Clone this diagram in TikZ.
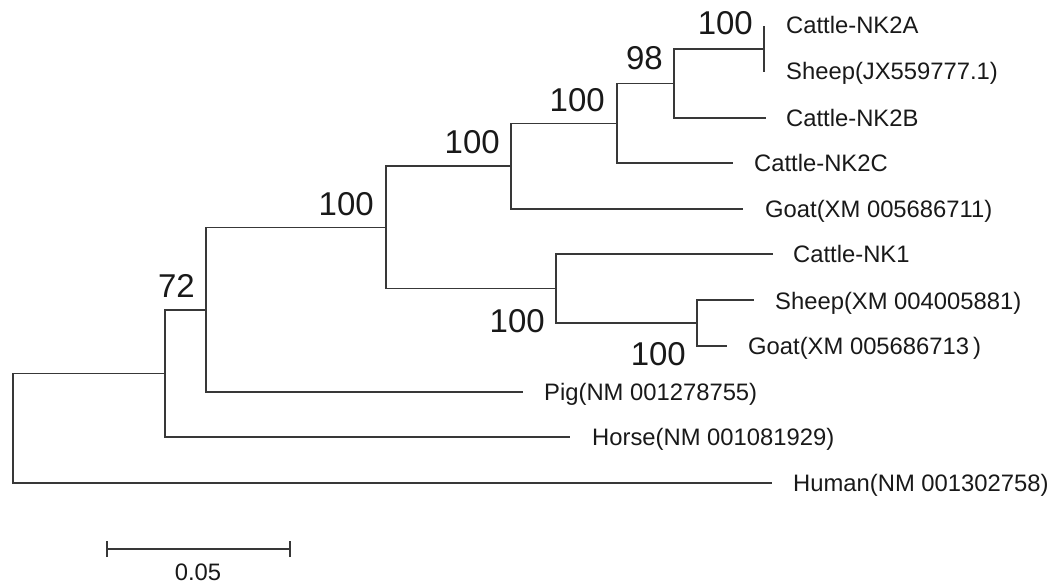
\documentclass[tikz,border=0pt]{standalone}
\usepackage{fontspec}
\setmainfont{Liberation Sans}
\begin{document}
\begin{tikzpicture}[x=1pt,y=-1pt,
  branch/.style={draw=black!78,line width=1.8pt},
  taxon/.style={anchor=base west,inner sep=0pt,text=black!90,font=\fontsize{23.8}{28}\selectfont},
  boot/.style={anchor=base east,inner sep=0pt,text=black!90,font=\fontsize{33}{38}\selectfont},
  scalelbl/.style={anchor=base,inner sep=0pt,text=black!90,font=\fontsize{23.8}{28}\selectfont}]
\useasboundingbox (0,0) rectangle (1057,586);

% internal nodes (x = depth, y = midpoint of children)
\coordinate (root) at (13,428);
\coordinate (n72)  at (165,373.5);
\coordinate (nin)  at (206,310);
\coordinate (n1)   at (386,227.5);
\coordinate (n2)   at (511,166);
\coordinate (n3)   at (617,123.5);
\coordinate (n98)  at (674,83.5);
\coordinate (na)   at (764,49);
\coordinate (n5)   at (556,288.5);
\coordinate (n6)   at (697,323);

% branch tips
\coordinate (tnk2a)  at (764,26);
\coordinate (tshjx)  at (764,72);
\coordinate (tnk2b)  at (766,118);
\coordinate (tnk2c)  at (733,163);
\coordinate (tgo711) at (743,209);
\coordinate (tnk1)   at (773,254);
\coordinate (tshxm)  at (754,300);
\coordinate (tgo713) at (727,346);
\coordinate (tpig)   at (523,392);
\coordinate (thorse) at (570,437);
\coordinate (thuman) at (772,483);

% branches
\draw[branch] (root) |- (n72);
\draw[branch] (root) |- (thuman);
\draw[branch] (n72) |- (nin);
\draw[branch] (n72) |- (thorse);
\draw[branch] (nin) |- (n1);
\draw[branch] (nin) |- (tpig);
\draw[branch] (n1) |- (n2);
\draw[branch] (n1) |- (n5);
\draw[branch] (n2) |- (n3);
\draw[branch] (n2) |- (tgo711);
\draw[branch] (n3) |- (n98);
\draw[branch] (n3) |- (tnk2c);
\draw[branch] (n98) |- (na);
\draw[branch] (n98) |- (tnk2b);
\draw[branch] (na) -- (tnk2a);
\draw[branch] (na) -- (tshjx);
\draw[branch] (n5) |- (tnk1);
\draw[branch] (n5) |- (n6);
\draw[branch] (n6) |- (tshxm);
\draw[branch] (n6) |- (tgo713);

% taxon labels
\node[taxon] (lnk2a)  at (786,34)  {Cattle-NK2A};
\node[taxon] (lshjx)  at (786,80)  {Sheep(JX559777.1)};
\node[taxon] (lnk2b)  at (786,126) {Cattle-NK2B};
\node[taxon] (lnk2c)  at (754,171) {Cattle-NK2C};
\node[taxon] (lgo711) at (765,217) {Goat(XM 005686711)};
\node[taxon] (lnk1)   at (793,262) {Cattle-NK1};
\node[taxon] (lshxm)  at (775,309) {Sheep(XM 004005881)};
\node[taxon] (lgo713) at (748,354) {Goat(XM 005686713\,)};
\node[taxon] (lpig)   at (544,400) {Pig(NM 001278755)};
\node[taxon] (lhorse) at (592,445) {Horse(NM 001081929)};
\node[taxon] (lhuman) at (793,491) {Human(NM 001302758)};

% bootstrap values
\node[boot] (bna)  at (753,35)  {100};
\node[boot] (b98)  at (663,70)  {98};
\node[boot] (bn3)  at (605,111) {100};
\node[boot] (bn2)  at (500,153) {100};
\node[boot] (bn1)  at (374,215) {100};
\node[boot] (b72)  at (195,297) {72};
\node[boot] (bn5)  at (545,332) {100};
\node[boot] (bn6)  at (686,365) {100};

% scale bar
\coordinate (sbl) at (107,549);
\coordinate (sbr) at (290,549);
\draw[branch] (sbl) -- (sbr);
\draw[branch] ([yshift=-8]sbl) -- ([yshift=8]sbl);
\draw[branch] ([yshift=-8]sbr) -- ([yshift=8]sbr);
\node[scalelbl] (sblbl) at (198,580) {0.05};
\end{tikzpicture}
\end{document}
